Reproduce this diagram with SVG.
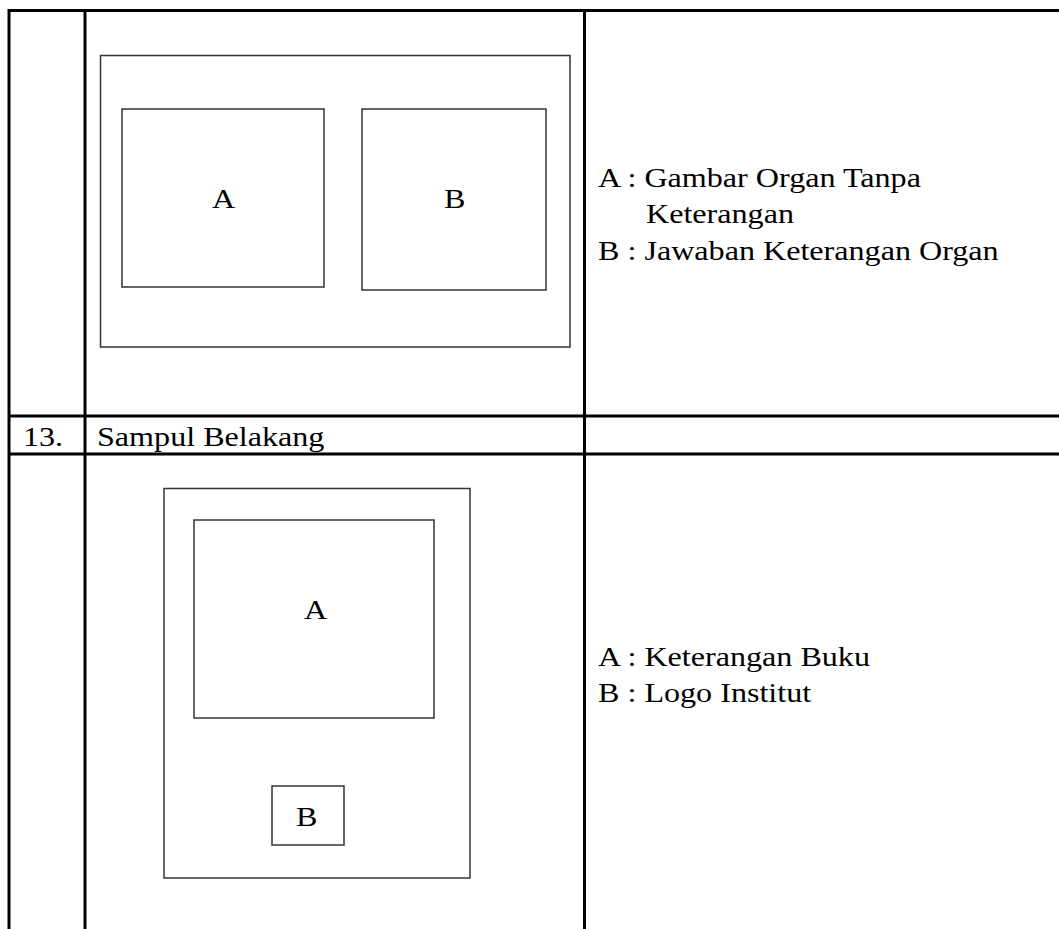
<svg xmlns="http://www.w3.org/2000/svg" width="1059" height="929" viewBox="0 0 1059 929">
<style>
.grid{stroke:#000;stroke-width:3;fill:none}
.box{stroke:#333;stroke-width:1.5;fill:none}
.t{font-family:"Liberation Serif","Times New Roman",serif;font-size:27px;fill:#000}
</style>
<rect width="1059" height="929" fill="#fff"/>
<g id="table">
<line class="grid" x1="8" y1="10.5" x2="1059" y2="10.5"/>
<line class="grid" x1="8" y1="416" x2="1059" y2="416"/>
<line class="grid" x1="8" y1="454" x2="1059" y2="454"/>
<line class="grid" x1="9" y1="9" x2="9" y2="929"/>
<line class="grid" x1="85" y1="9" x2="85" y2="929"/>
<line class="grid" x1="584.5" y1="9" x2="584.5" y2="929"/>
<text class="t" transform="translate(23,446) scale(1.19,1)">13.</text>
<text class="t" transform="translate(97,446) scale(1.19,1)">Sampul Belakang</text>
</g>
<g id="layout-top">
<rect class="box" x="100.5" y="55.5" width="469.5" height="291.5"/>
<g id="top-A">
<rect class="box" x="122" y="109" width="202" height="178"/>
<text class="t" transform="translate(212,208) scale(1.19,1)">A</text>
</g>
<g id="top-B">
<rect class="box" x="362" y="109" width="184" height="181"/>
<text class="t" transform="translate(444,208) scale(1.19,1)">B</text>
</g>
</g>
<g id="legend-top">
<text class="t" transform="translate(598,187) scale(1.19,1)">A : Gambar Organ Tanpa</text>
<text class="t" transform="translate(646,223) scale(1.19,1)">Keterangan</text>
<text class="t" transform="translate(598,260) scale(1.19,1)">B : Jawaban Keterangan Organ</text>
</g>
<g id="layout-bottom">
<rect class="box" x="164" y="488.5" width="306" height="389.5"/>
<g id="bottom-A">
<rect class="box" x="194" y="520" width="240" height="198"/>
<text class="t" transform="translate(304,619) scale(1.19,1)">A</text>
</g>
<g id="bottom-B">
<rect class="box" x="272" y="786" width="72" height="59"/>
<text class="t" transform="translate(296,826) scale(1.19,1)">B</text>
</g>
</g>
<g id="legend-bottom">
<text class="t" transform="translate(598,666) scale(1.19,1)">A : Keterangan Buku</text>
<text class="t" transform="translate(598,702) scale(1.19,1)">B : Logo Institut</text>
</g>
<g id="connectors"></g>
</svg>
